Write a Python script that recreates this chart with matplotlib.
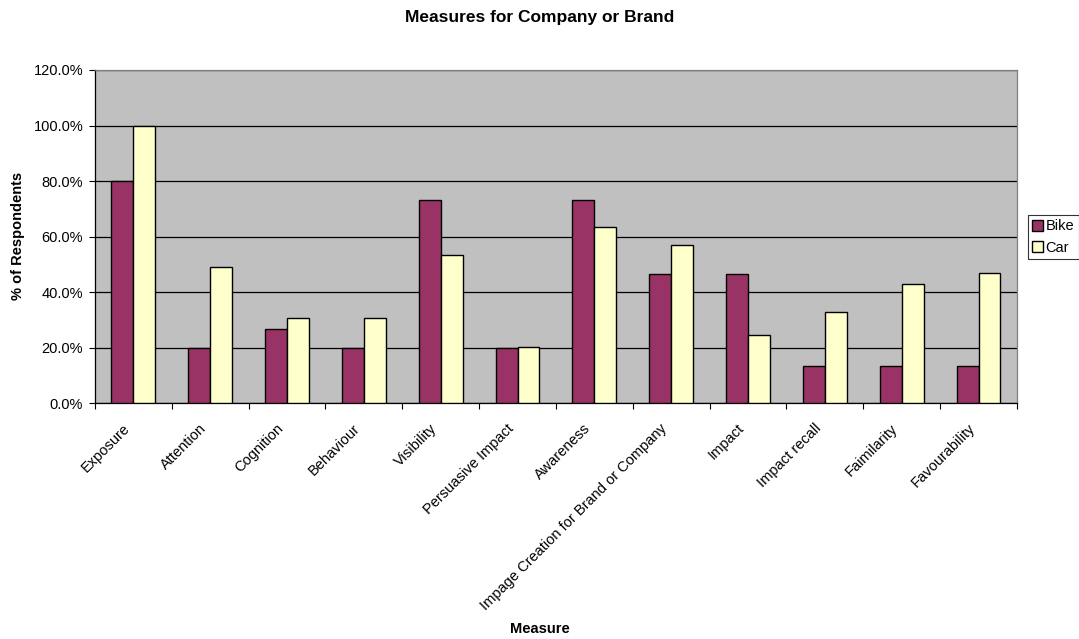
import matplotlib
matplotlib.use("Agg")
import matplotlib.pyplot as plt
import matplotlib.transforms as mtransforms
import numpy as np
from matplotlib.ticker import FuncFormatter, MultipleLocator

categories = ["Exposure", "Attention", "Cognition", "Behaviour", "Visibility",
              "Persuasive Impact", "Awareness", "Impage Creation for Brand or Company",
              "Impact", "Impact recall", "Faimilarity", "Favourability"]
bike = [80.0, 20.0, 26.7, 20.0, 73.3, 20.0, 73.3, 46.7, 46.7, 13.3, 13.3, 13.3]
car = [100.0, 49.0, 30.6, 30.6, 53.2, 20.4, 63.3, 57.1, 24.5, 32.7, 42.9, 46.9]
series_names = ["Bike", "Car"]

plt.rcParams['font.family'] = ['Liberation Sans', 'DejaVu Sans']

fig = plt.figure(figsize=(10.79, 6.39), dpi=100)
ax = fig.add_axes([0.088, 0.369, 0.8545, 0.5215])
ax.set_facecolor('#C0C0C0')

x = np.arange(len(categories))
w = 0.285
ax.bar(x - w/2, bike, w, color='#993366', edgecolor='black', linewidth=1.0, label=series_names[0], zorder=3)
ax.bar(x + w/2, car, w, color='#FFFFCC', edgecolor='black', linewidth=1.0, label=series_names[1], zorder=3)

ax.set_xlim(-0.5, len(categories) - 0.5)
ax.set_ylim(0, 120)
ax.yaxis.set_major_locator(MultipleLocator(20))
ax.yaxis.set_major_formatter(FuncFormatter(lambda v, p: f"{v:.1f}%"))
ax.grid(axis='y', color='black', linewidth=0.9, zorder=1)
ax.set_axisbelow(True)

ax.set_xticks(np.arange(len(categories) + 1) - 0.5, minor=False)
ax.set_xticklabels([])
ax.set_xticks(x, minor=True)
ax.set_xticklabels(categories, minor=True, rotation=45, ha='right', rotation_mode='anchor', fontsize=10.5)
ax.tick_params(axis='x', which='minor', length=0, pad=10)
ax.tick_params(axis='x', which='major', direction='out', length=4.5, width=0.8)
ax.tick_params(axis='y', direction='out', length=4.5, width=0.8, labelsize=10.5, pad=4)

offset = mtransforms.ScaledTranslation(-11/100, -4/100, fig.dpi_scale_trans)
for lbl in ax.get_xticklabels(minor=True):
    lbl.set_transform(lbl.get_transform() + offset)

for s in ['left', 'bottom']:
    ax.spines[s].set_color('black')
    ax.spines[s].set_linewidth(0.9)
for s in ['right', 'top']:
    ax.spines[s].set_color('#808080')
    ax.spines[s].set_linewidth(0.9)

fig.text(18/1079, 0.63, "% of Respondents", ha='center', va='center', rotation=90,
         fontsize=10.5, fontweight='bold')
fig.text(0.5, 1 - 629/639, "Measure", ha='center', va='center', fontsize=10.5, fontweight='bold')
fig.text(0.5, 0.973, "Measures for Company or Brand", ha='center', va='center', fontsize=12.5, fontweight='bold')

leg = fig.legend(loc='upper left', bbox_to_anchor=(1028/1079, 1 - 215/639), fontsize=10.5,
                 frameon=True, fancybox=False, edgecolor='black', handlelength=0.75,
                 handleheight=0.75, handletextpad=0.15, borderpad=0.3, labelspacing=0.5,
                 borderaxespad=0.0)
leg.get_frame().set_linewidth(0.8)

fig.savefig("out.png", dpi=100)
